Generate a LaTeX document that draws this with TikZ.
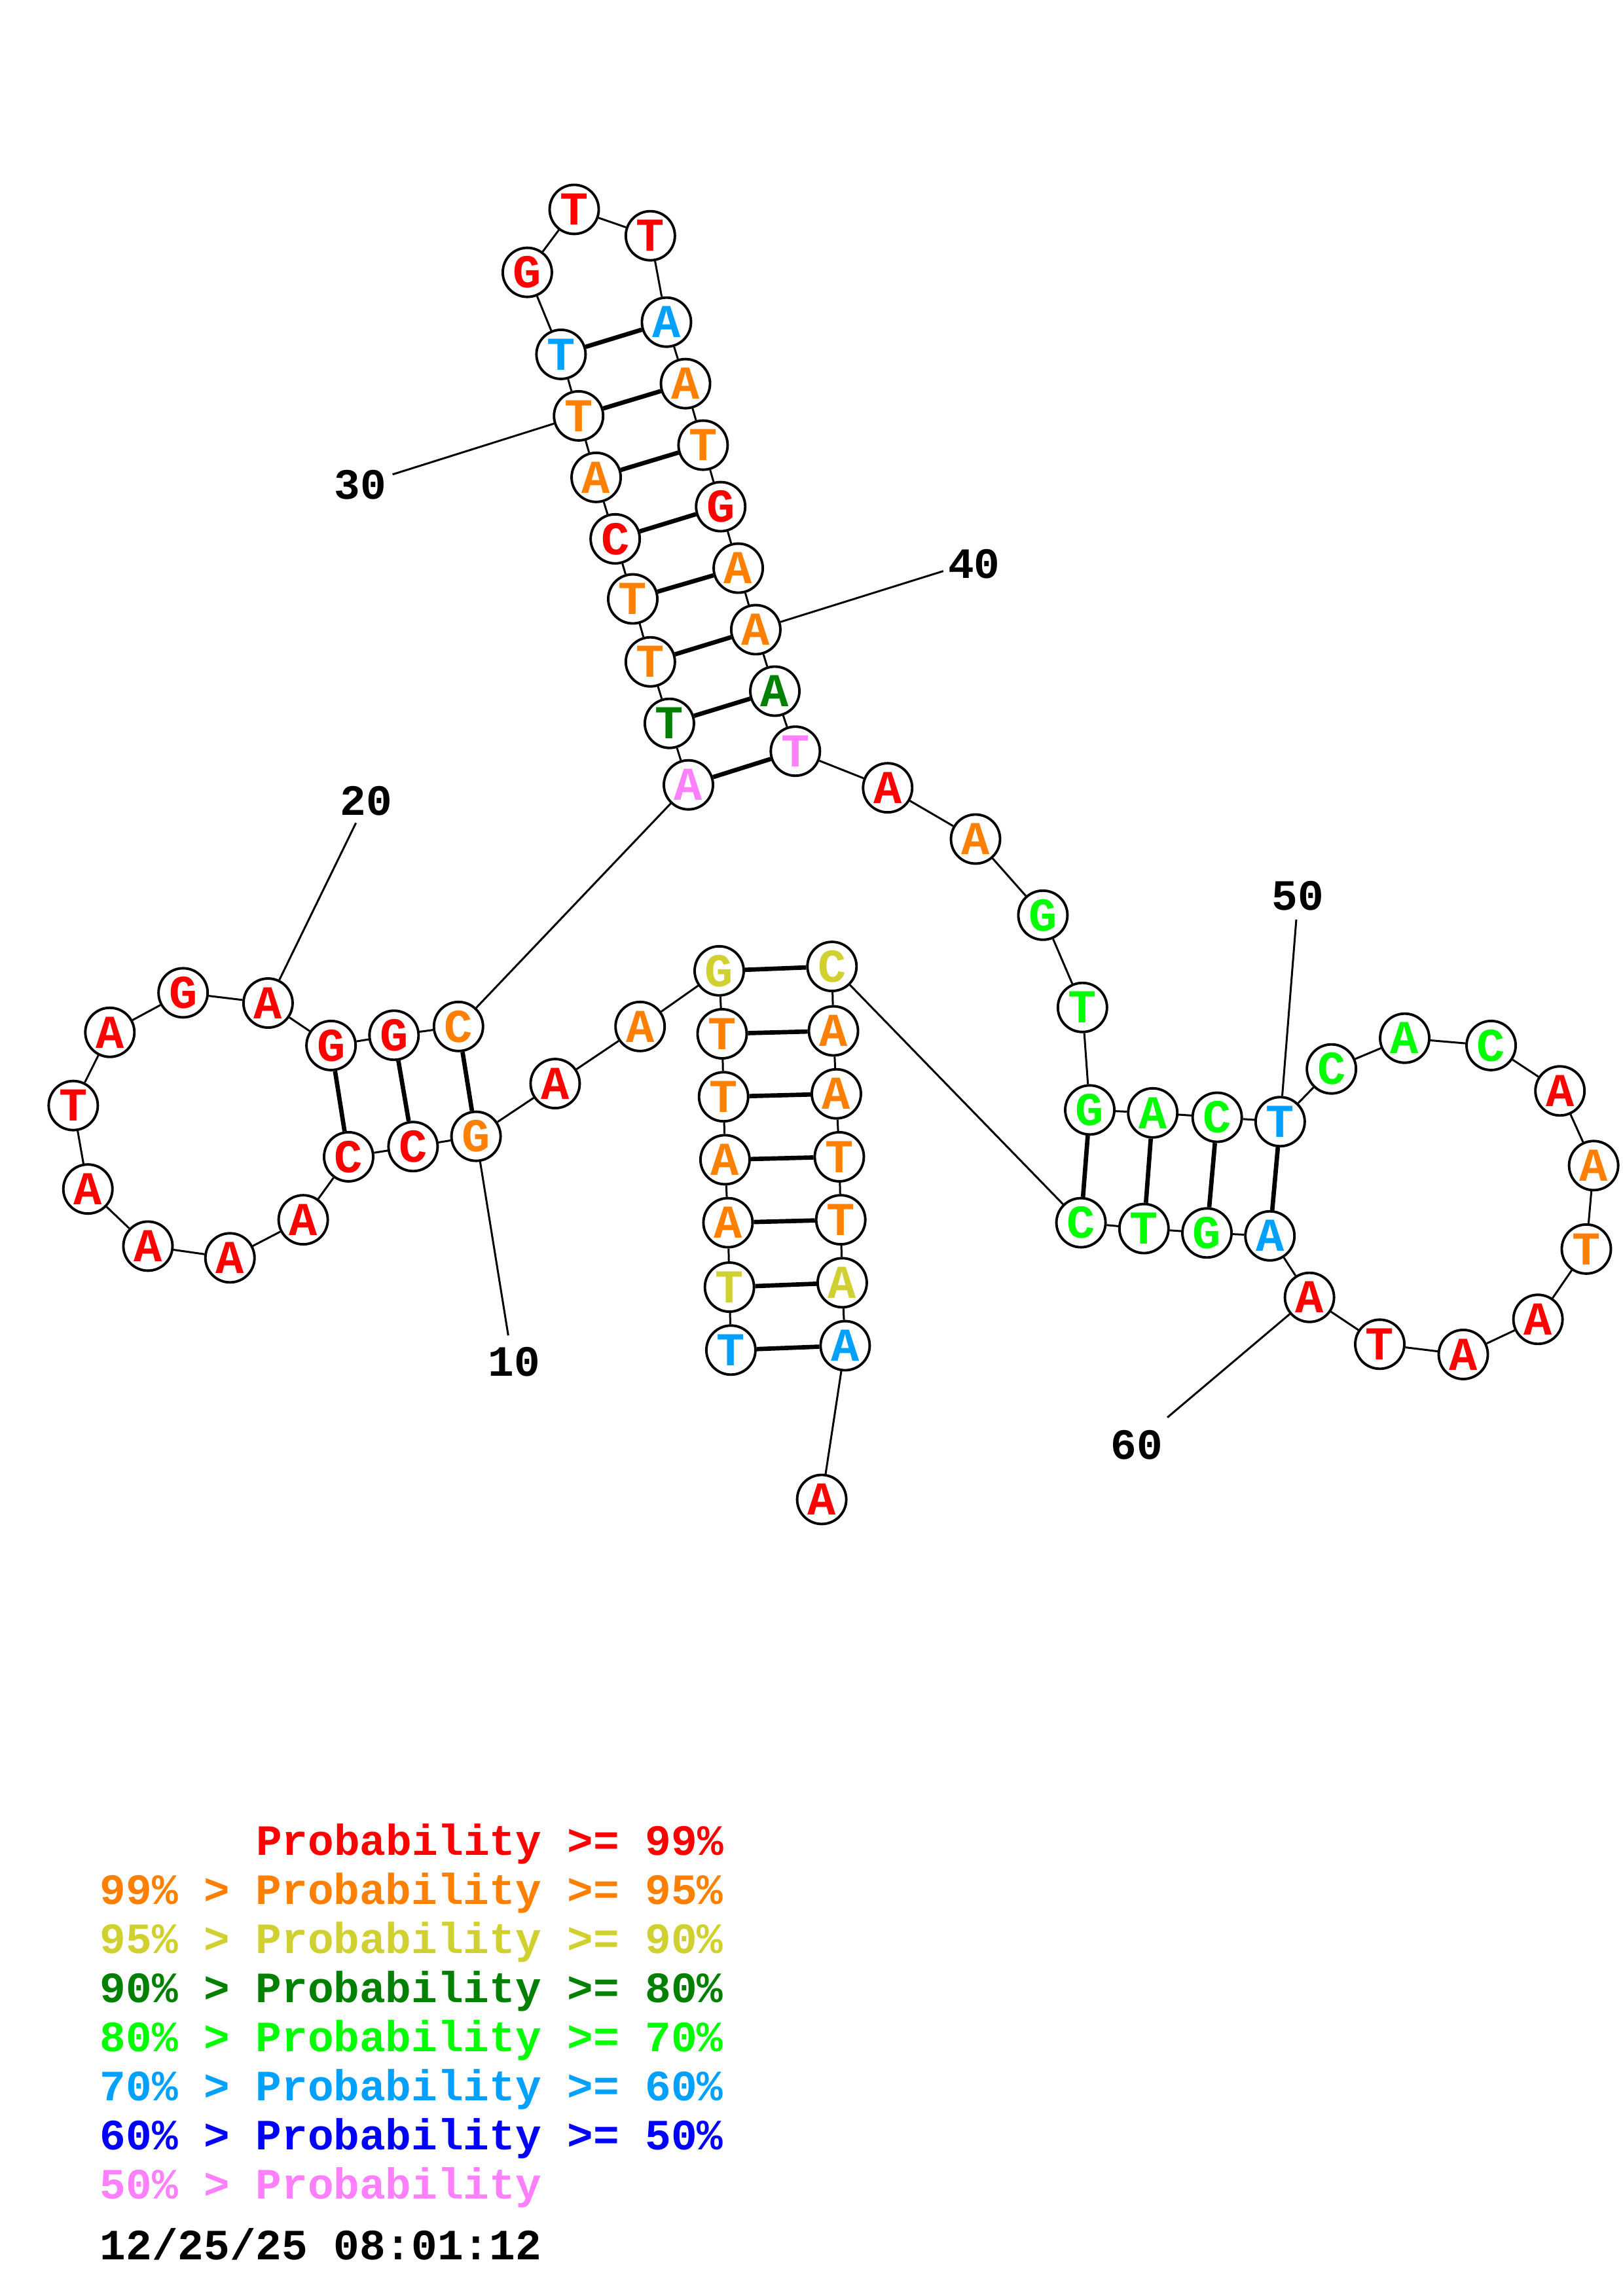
\documentclass[tikz,border=0pt]{standalone}
\usepackage{fontspec}
\newfontfamily\monob{Liberation Mono}
\definecolor{pr}{RGB}{255,0,0}
\definecolor{po}{RGB}{255,128,0}
\definecolor{py}{RGB}{208,208,48}
\definecolor{pd}{RGB}{0,128,0}
\definecolor{pg}{RGB}{0,255,0}
\definecolor{ps}{RGB}{0,160,255}
\definecolor{pb}{RGB}{0,0,255}
\definecolor{pk}{RGB}{255,128,255}
\newcommand{\ntfont}{\monob\bfseries\fontsize{20.5}{22}\selectfont}
\newcommand{\legfont}{\monob\bfseries\fontsize{18.8}{20}\selectfont}
\tikzset{
  nt/.style={circle, draw=black, line width=1.1pt, fill=white, minimum size=0.75cm, inner sep=0pt, font=\ntfont},
  bb/.style={line width=0.85pt, black},
  bp/.style={line width=1.9pt, black},
  lab/.style={inner sep=0pt, font=\legfont, text=black},
  leg/.style={inner sep=0pt, anchor=base west, font=\legfont}
}
\begin{document}
\begin{tikzpicture}[x=0.022374cm, y=-0.022374cm]
\useasboundingbox (0,0) rectangle (1108,1568);
\foreach \i/\x/\y/\l/\c in {
1/499/922/T/ps, 2/498/879/T/py, 3/497/835/A/po, 4/495/792/A/po, 5/494/749/T/po,
6/493/706/T/po, 7/491/663/G/py, 8/437/701/A/po, 9/379/740/A/pr, 10/325/776/G/po,
11/282/783/C/pr, 12/238/790/C/pr, 13/207/833/A/pr, 14/157/859/A/pr, 15/101/851/A/pr,
16/60/812/A/pr, 17/50/755/T/pr, 18/75/705/A/pr, 19/125/678/G/pr, 20/183/685/A/pr,
21/226/714/G/pr, 22/269/707/G/pr, 23/313/701/C/po, 24/470/536/A/pk, 25/457/494/T/pd,
26/444/452/T/po, 27/432/409/T/po, 28/420/368/C/pr, 29/407/326/A/po, 30/395/284/T/po,
31/383/242/T/ps, 32/360/186/G/pr, 33/392/143/T/pr, 34/444/161/T/pr, 35/455/220/A/ps,
36/468/262/A/po, 37/480/304/T/po, 38/492/346/G/pr, 39/504/388/A/po, 40/516/430/A/po,
41/529/472/A/pd, 42/543/513/T/pk, 43/606/538/A/pr, 44/666/573/A/po, 45/712/625/G/pg,
46/739/688/T/pg, 47/744/758/G/pg, 48/787/760/A/pg, 49/831/763/C/pg, 50/874/766/T/ps,
51/909/730/C/pg, 52/959/709/A/pg, 53/1018/714/C/pg, 54/1065/745/A/pr, 55/1088/796/A/po,
56/1083/853/T/po, 57/1050/901/A/pr, 58/999/925/A/pr, 59/942/918/T/pr, 60/894/886/A/pr,
61/867/844/A/ps, 62/824/842/G/pg, 63/781/839/T/pg, 64/738/835/C/pg, 65/568/660/C/py,
66/569/704/A/po, 67/571/747/A/po, 68/573/790/T/po, 69/574/833/T/po, 70/575/876/A/py,
71/577/919/A/ps, 72/561/1024/A/pr}
  \node[nt, text=\c] (n\i) at (\x,\y) {\l};
% backbone
\foreach \i in {1,...,71}{
  \pgfmathtruncatemacro\j{\i+1}
  \draw[bb] (n\i) -- (n\j);
}
% base pairs
\foreach \a/\b in {1/71,2/70,3/69,4/68,5/67,6/66,7/65,10/23,11/22,12/21,
  24/42,25/41,26/40,27/39,28/38,29/37,30/36,31/35,47/64,48/63,49/62,50/61}
  \draw[bp] (n\a) -- (n\b);
% numbering
\node[lab] (t10) at (351,930) {10};
\node[lab] (t20) at (250,547) {20};
\node[lab] (t30) at (246,331) {30};
\node[lab] (t40) at (665,385) {40};
\node[lab] (t50) at (886,612) {50};
\node[lab] (t60) at (776,987) {60};
\coordinate (e10) at (347,912);
\coordinate (e20) at (243,562);
\coordinate (e30) at (268,324);
\coordinate (e40) at (644,390);
\coordinate (e50) at (885,628);
\coordinate (e60) at (797,968);
\foreach \k in {10,20,30,40,50,60}
  \draw[bb] (n\k) -- (e\k);
% legend
\node[leg, text=pr] (leg1) at (174.5,1267) {Probability >= 99\%};
\node[leg, text=po] (leg2) at (68,1300.5) {99\% > Probability >= 95\%};
\node[leg, text=py] (leg3) at (68,1334) {95\% > Probability >= 90\%};
\node[leg, text=pd] (leg4) at (68,1367.5) {90\% > Probability >= 80\%};
\node[leg, text=pg] (leg5) at (68,1401) {80\% > Probability >= 70\%};
\node[leg, text=ps] (leg6) at (68,1434.5) {70\% > Probability >= 60\%};
\node[leg, text=pb] (leg7) at (68,1468) {60\% > Probability >= 50\%};
\node[leg, text=pk] (leg8) at (68,1501.5) {50\% > Probability};
\node[leg, text=black] (date) at (68,1543) {12/25/25 08:01:12};
\end{tikzpicture}
\end{document}
